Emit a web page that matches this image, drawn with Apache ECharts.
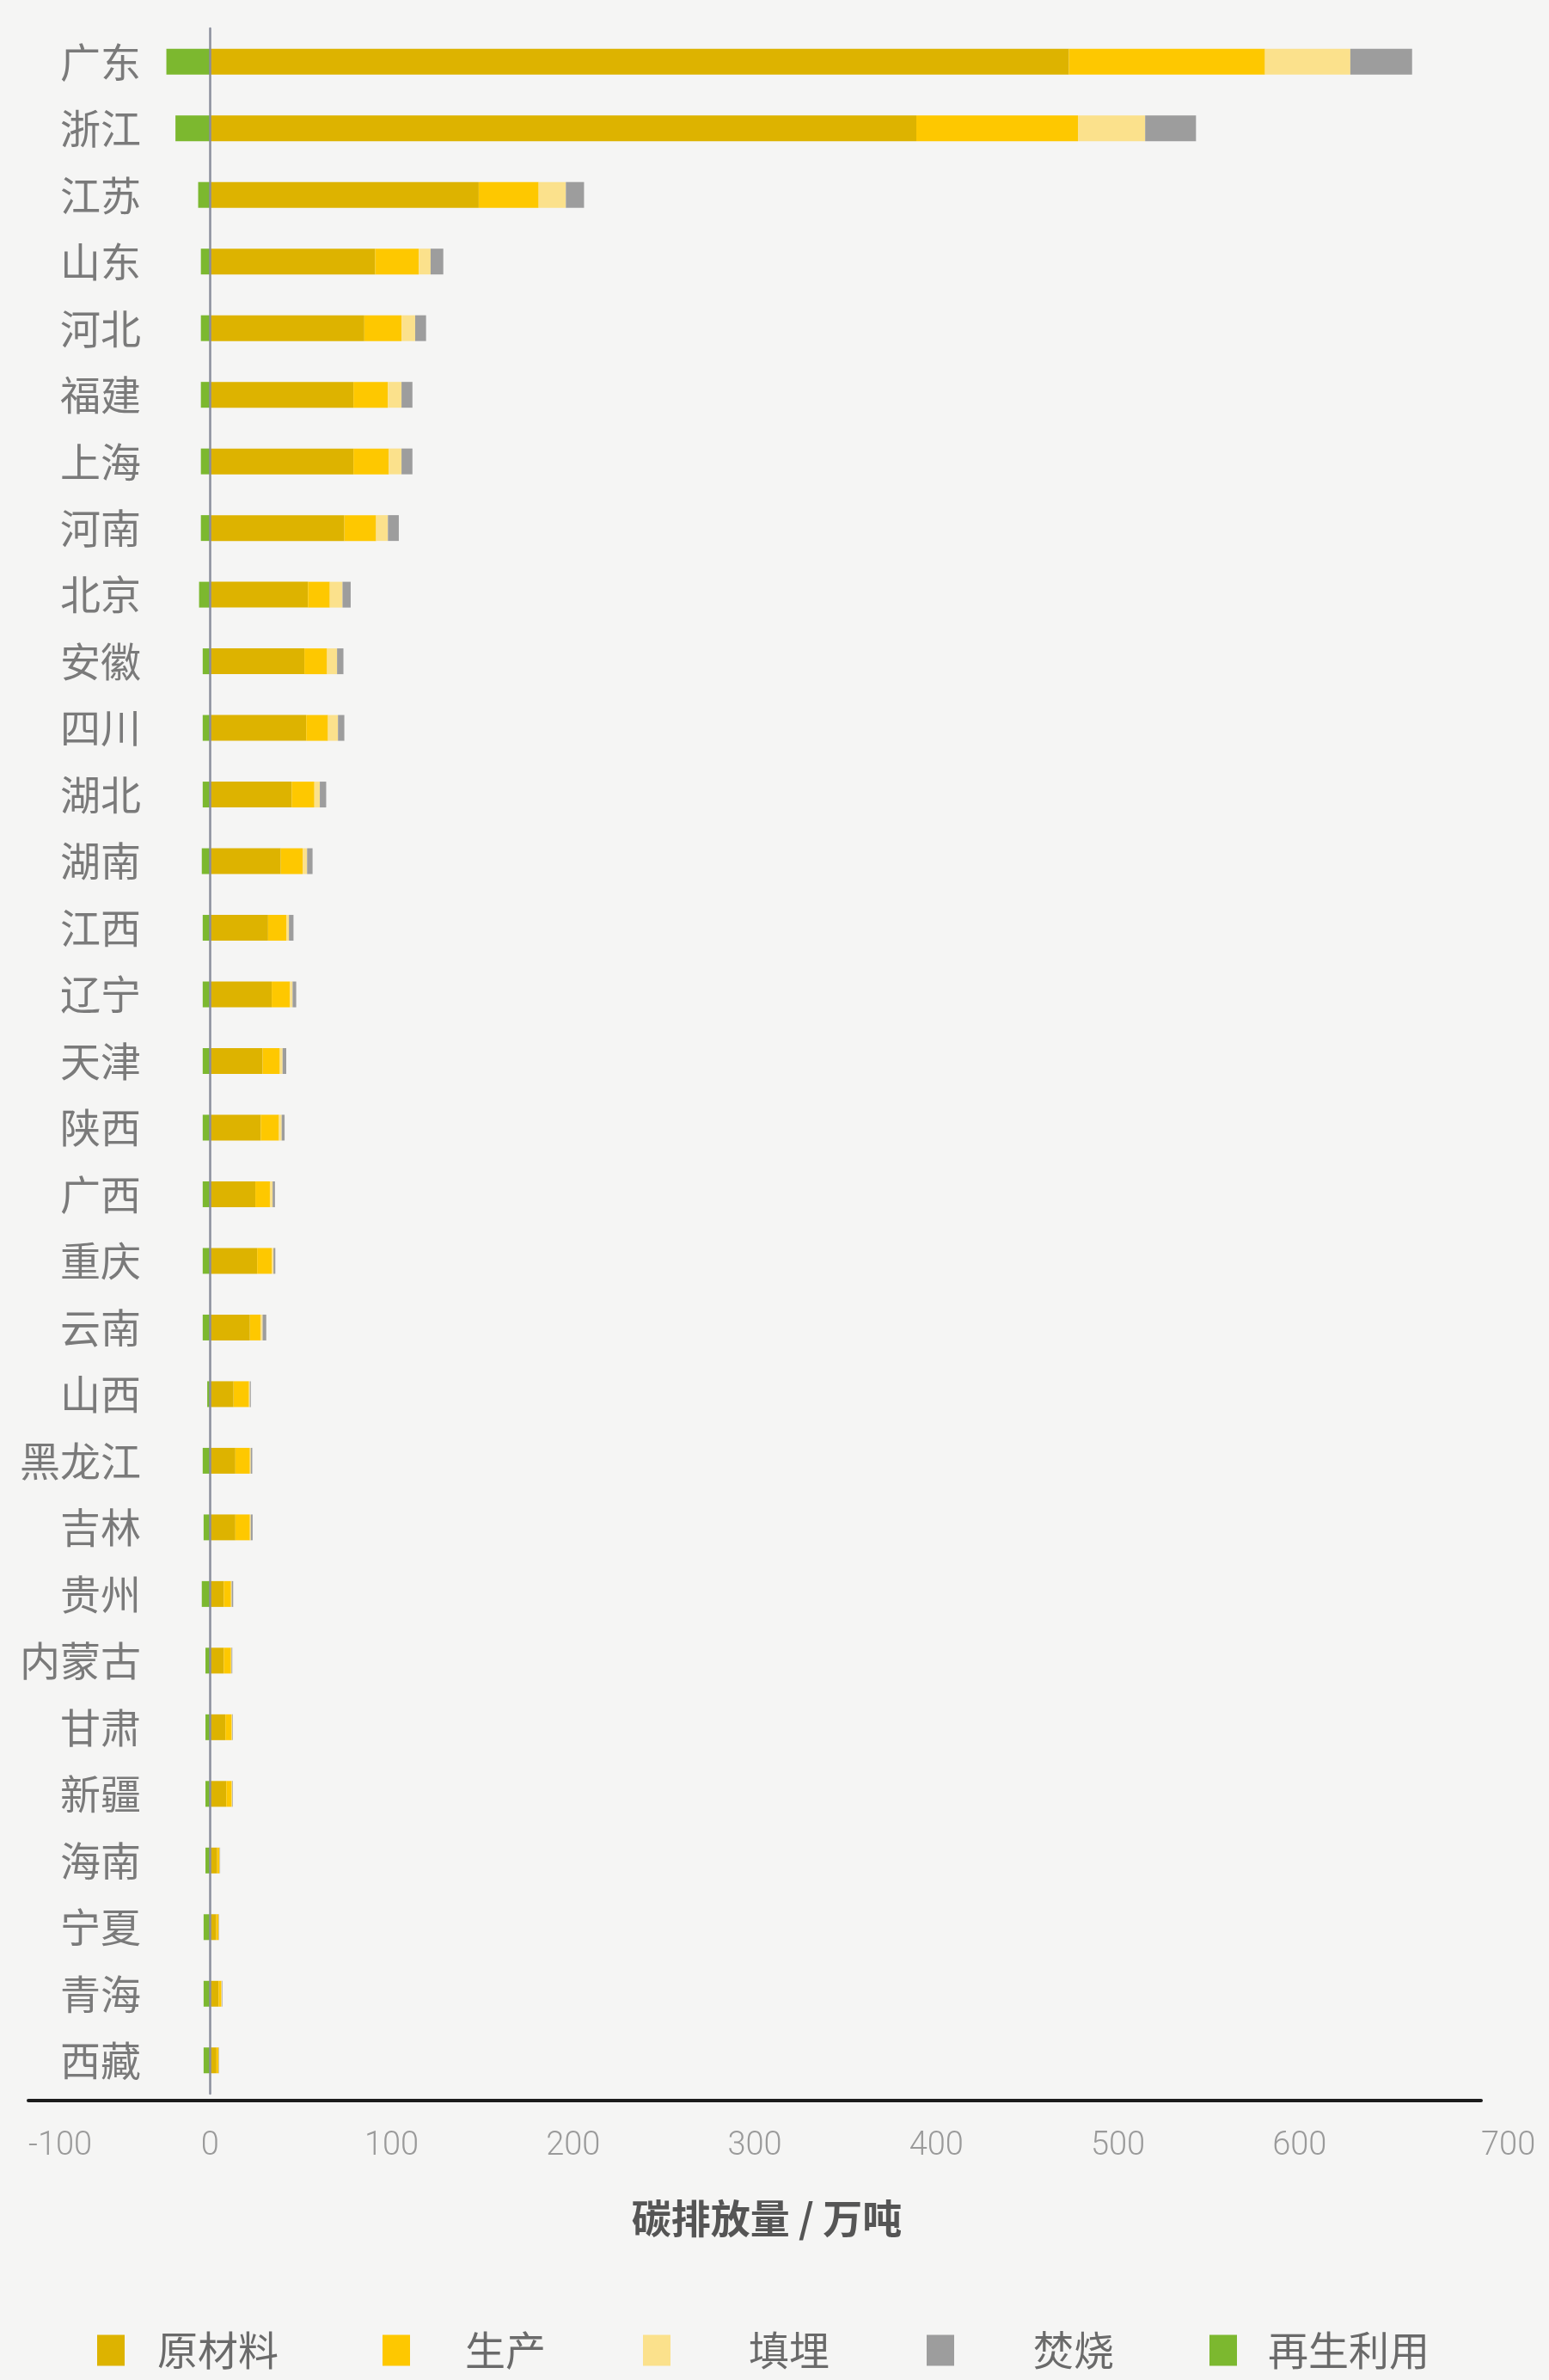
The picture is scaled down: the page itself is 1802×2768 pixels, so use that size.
<!DOCTYPE html>
<html>
<head>
<meta charset="utf-8">
<script src="https://cdn.jsdelivr.net/npm/echarts@6/dist/echarts.min.js"></script>
<style>
  html, body { margin: 0; padding: 0; background: #f5f5f4; }
  #chart { width: 1802px; height: 2768px; }
</style>
</head>
<body>
<div id="chart"></div>
<script>
// 各省份碳排放量（万吨），按环节拆分
const provinces = ['广东','浙江','江苏','山东','河北','福建','上海','河南','北京','安徽','四川','湖北','湖南','江西','辽宁','天津','陕西','广西','重庆','云南','山西','黑龙江','吉林','贵州','内蒙古','甘肃','新疆','海南','宁夏','青海','西藏'];

const rawMaterial = [473, 389, 148, 91, 85, 79, 79, 74, 54, 52, 53, 45, 39, 32, 34, 29, 28, 25, 26, 22, 13, 14, 14, 7.6, 7.6, 8.5, 9, 4, 3.5, 4.8, 3.6];
const production  = [108, 89, 33, 24, 20.5, 19, 19.5, 17.5, 12, 12.5, 12, 12.5, 12, 10, 10, 9.5, 10, 8, 8, 6, 8.5, 8, 8, 4, 4, 3.5, 3, 1.2, 1.2, 1.5, 1.1];
const landfill    = [47, 37, 15, 6.5, 7.5, 7.5, 7, 6.5, 7, 5.5, 5.5, 3, 2.5, 1.5, 1.5, 1.5, 1.5, 1.5, 1, 1, 0.5, 0.5, 0.5, 0.4, 0.3, 0.3, 0.3, 0.2, 0.2, 0.2, 0.2];
const incineration= [34, 28, 10, 7, 6, 6, 6, 6, 4.5, 3.5, 3.5, 3.5, 3, 2.5, 2, 2, 1.6, 1.3, 1, 2, 0.5, 0.8, 1, 0.8, 0.4, 0.3, 0.3, 0.2, 0.2, 0.3, 0.2];
const recycling   = [-24, -19, -6.5, -5, -5, -5, -5, -5, -6, -4, -4, -4, -4.5, -4, -4, -4, -4, -4, -4, -4, -1.5, -4, -3.5, -4.5, -2.5, -2.5, -2.5, -2.5, -3.5, -3.5, -3.5];

const seriesNames = ['原材料', '生产', '填埋', '焚烧', '再生利用'];
const seriesData = [rawMaterial, production, landfill, incineration, recycling];
const seriesColors = ['#ddb300', '#fec800', '#fbe18c', '#9d9d9d', '#7cb82f'];

const cjk = '"Noto Sans CJK SC", "Noto Sans", sans-serif';

const chart = echarts.init(document.getElementById('chart'), null, { renderer: 'canvas' });

// one legend per entry so each item can sit at its own spot
const legendLefts = [108, 440, 743, 1073, 1402];
const legendTextGaps = [33, 59, 86, 87, 31];
const legends = seriesNames.map((name, i) => ({
  data: [name],
  left: legendLefts[i],
  top: 2705,
  icon: 'rect',
  itemWidth: 32,
  itemHeight: 36,
  selectedMode: false,
  textStyle: {
    fontFamily: cjk,
    fontSize: 47,
    color: '#6a6a6a',
    padding: [0, 0, 0, legendTextGaps[i]]
  }
}));

chart.setOption({
  backgroundColor: '#f5f5f4',
  animation: false,
  grid: {
    left: 33,
    right: 79,
    top: 33,
    height: 2402,
    containLabel: false,
    outerBoundsMode: 'none'
  },
  legend: legends,
  xAxis: {
    type: 'value',
    min: -100,
    max: 700,
    interval: 100,
    offset: 8,
    splitLine: { show: false },
    axisTick: { show: false },
    axisLine: { show: true, lineStyle: { color: '#1c1c1c', width: 4 } },
    axisLabel: {
      margin: 34,
      alignMinLabel: 'left',
      alignMaxLabel: 'left',
      fontFamily: 'Roboto, "Noto Sans", sans-serif',
      fontWeight: 300,
      fontSize: 38,
      color: '#9a9a9a'
    },
    name: '碳排放量 / 万吨',
    nameLocation: 'middle',
    nameGap: 114,
    nameTextStyle: {
      fontFamily: cjk,
      fontSize: 46,
      fontWeight: 'bold',
      color: '#555555',
      padding: [0, 0, 0, 28]
    }
  },
  yAxis: {
    type: 'category',
    inverse: true,
    data: provinces,
    z: 5,
    axisTick: { show: false },
    axisLine: { show: true, onZero: true, lineStyle: { color: '#8a8e9c', width: 2.5 } },
    axisLabel: {
      margin: -131,
      fontFamily: cjk,
      fontSize: 47,
      color: '#7a7a7a'
    }
  },
  series: seriesNames.map((name, i) => ({
    name: name,
    type: 'bar',
    stack: 'total',
    barWidth: 30,
    data: seriesData[i],
    itemStyle: { color: seriesColors[i] }
  }))
});
</script>
</body>
</html>
